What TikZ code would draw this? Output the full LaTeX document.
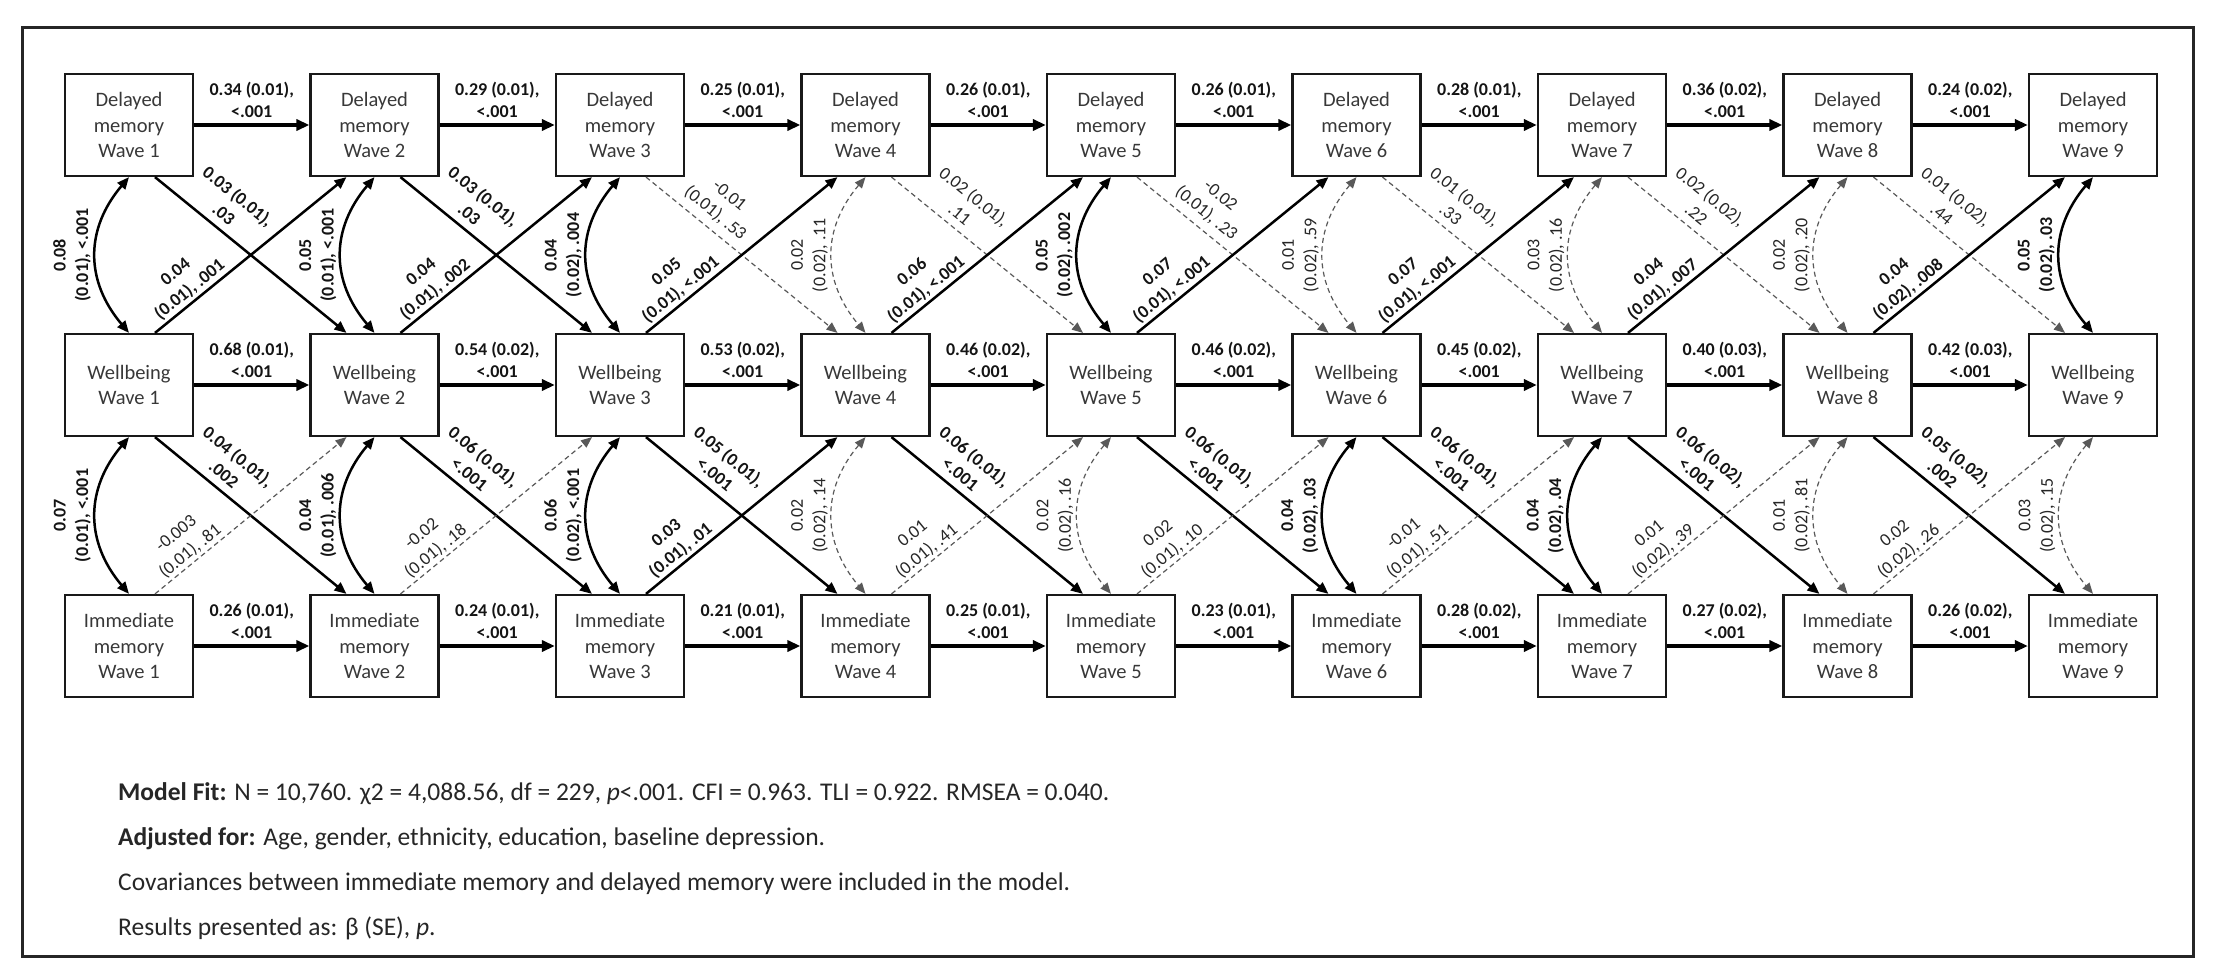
\documentclass[tikz,border=0pt]{standalone}
\usepackage{fontspec}
\setmainfont{Carlito}
\usetikzlibrary{arrows.meta,calc}
\begin{document}
\begin{tikzpicture}[x=1pt,y=-1pt,
  box/.style={draw=black!90, line width=2.2pt, minimum width=128pt, minimum height=102pt, align=center, inner sep=0pt, text=black!78, font=\fontsize{20.5}{25.6}\selectfont},
  lab/.style={align=center, inner sep=1.5pt, text=black!92, font=\fontsize{18}{22.5}\selectfont\bfseries},
  nlab/.style={align=center, inner sep=1.5pt, text=black!85, font=\fontsize{18}{22.5}\selectfont},
  harrow/.style={line width=3.4pt, draw=black, -{Triangle[length=13pt,width=11pt]}},
  sig/.style={line width=2.5pt, draw=black, -{Triangle[length=12pt,width=10pt]}, every node/.style={lab}},
  ns/.style={line width=1.2pt, draw=black!65, dash pattern=on 5pt off 3.5pt, -{Triangle[length=11pt,width=9pt]}, every node/.style={nlab}},
  sigc/.style={line width=2.5pt, draw=black, {Triangle[length=12pt,width=10pt]}-{Triangle[length=12pt,width=10pt]}, every node/.style={lab}},
  nsc/.style={line width=1.2pt, draw=black!65, dash pattern=on 5pt off 3.5pt, {Triangle[length=11pt,width=9pt]}-{Triangle[length=11pt,width=9pt]}, every node/.style={nlab}},
  note/.style={anchor=base west, inner sep=0pt, text=black!85, font=\fontsize{25.5}{32}\selectfont}
]
\useasboundingbox (0,0) rectangle (2217,963);
\draw[line width=3pt, black!85] (22,28) rectangle (2193,956);

\foreach \i in {1,...,9}{
  \pgfmathsetmacro\xx{129+245.5*(\i-1)}
  \node[box] (D\i) at (\xx,125) {Delayed\\memory\\Wave \i};
  \node[box] (W\i) at (\xx,385) {Wellbeing\\Wave \i};
  \node[box] (I\i) at (\xx,646) {Immediate\\memory\\Wave \i};
}

% horizontal autoregressive paths
\foreach \i/\j/\a/\b/\c in {
 1/2/{0.34 (0.01)}/{0.68 (0.01)}/{0.26 (0.01)},
 2/3/{0.29 (0.01)}/{0.54 (0.02)}/{0.24 (0.01)},
 3/4/{0.25 (0.01)}/{0.53 (0.02)}/{0.21 (0.01)},
 4/5/{0.26 (0.01)}/{0.46 (0.02)}/{0.25 (0.01)},
 5/6/{0.26 (0.01)}/{0.46 (0.02)}/{0.23 (0.01)},
 6/7/{0.28 (0.01)}/{0.45 (0.02)}/{0.28 (0.02)},
 7/8/{0.36 (0.02)}/{0.40 (0.03)}/{0.27 (0.02)},
 8/9/{0.24 (0.02)}/{0.42 (0.03)}/{0.26 (0.02)}}{
  \draw[harrow] (D\i) -- node[lab, above=4pt] {\a,\\<.001} (D\j);
  \draw[harrow] (W\i) -- node[lab, above=4pt] {\b,\\<.001} (W\j);
  \draw[harrow] (I\i) -- node[lab, above=4pt] {\c,\\<.001} (I\j);
}

% delayed -> wellbeing (descending)
\foreach \i/\j/\s/\l in {
 1/2/sig/{0.03 (0.01),\\.03},
 2/3/sig/{0.03 (0.01),\\.03},
 3/4/ns/{-0.01\\(0.01), .53},
 4/5/ns/{0.02 (0.01),\\.11},
 5/6/ns/{-0.02\\(0.01), .23},
 6/7/ns/{0.01 (0.01),\\.33},
 7/8/ns/{0.02 (0.02),\\.22},
 8/9/ns/{0.01 (0.02),\\.44}}{
  \draw[\s] ([xshift=26pt]D\i.south) -- node[pos=0.31, sloped, above=6pt] {\l} ([xshift=-28pt]W\j.north);
}

% wellbeing -> immediate (descending)
\foreach \i/\j/\s/\l in {
 1/2/sig/{0.04 (0.01),\\.002},
 2/3/sig/{0.06 (0.01),\\<.001},
 3/4/sig/{0.05 (0.01),\\<.001},
 4/5/sig/{0.06 (0.01),\\<.001},
 5/6/sig/{0.06 (0.01),\\<.001},
 6/7/sig/{0.06 (0.01),\\<.001},
 7/8/sig/{0.06 (0.02),\\<.001},
 8/9/sig/{0.05 (0.02),\\.002}}{
  \draw[\s] ([xshift=26pt]W\i.south) -- node[pos=0.31, sloped, above=6pt] {\l} ([xshift=-28pt]I\j.north);
}

% wellbeing -> delayed (ascending)
\foreach \i/\j/\s/\l in {
 1/2/sig/{0.04\\(0.01), .001},
 2/3/sig/{0.04\\(0.01), .002},
 3/4/sig/{0.05\\(0.01), <.001},
 4/5/sig/{0.06\\(0.01), <.001},
 5/6/sig/{0.07\\(0.01), <.001},
 6/7/sig/{0.07\\(0.01), <.001},
 7/8/sig/{0.04\\(0.01), .007},
 8/9/sig/{0.04\\(0.02), .008}}{
  \draw[\s] ([xshift=26pt]W\i.north) -- node[pos=0.22, sloped, above=1pt] {\l} ([xshift=-28pt]D\j.south);
}

% immediate -> wellbeing (ascending)
\foreach \i/\j/\s/\l in {
 1/2/ns/{-0.003\\(0.01), .81},
 2/3/ns/{-0.02\\(0.01), .18},
 3/4/sig/{0.03\\(0.01), .01},
 4/5/ns/{0.01\\(0.01), .41},
 5/6/ns/{0.02\\(0.01), .10},
 6/7/ns/{-0.01\\(0.01), .51},
 7/8/ns/{0.01\\(0.02), .39},
 8/9/ns/{0.02\\(0.02), .26}}{
  \draw[\s] ([xshift=26pt]I\i.north) -- node[pos=0.22, sloped, above=1pt] {\l} ([xshift=-28pt]W\j.south);
}

% covariances delayed - wellbeing
\foreach \i/\s/\l in {
 1/sigc/{0.08\\(0.01), <.001},
 2/sigc/{0.05\\(0.01), <.001},
 3/sigc/{0.04\\(0.02), .004},
 4/nsc/{0.02\\(0.02), .11},
 5/sigc/{0.05\\(0.02), .002},
 6/nsc/{0.01\\(0.02), .59},
 7/nsc/{0.03\\(0.02), .16},
 8/nsc/{0.02\\(0.02), .20},
 9/sigc/{0.05\\(0.02), .03}}{
  \draw[\s] (D\i.south) .. controls +(-44,52) and +(-44,-52) .. node[pos=0.5, rotate=90, anchor=south, inner sep=4pt] {\l} (W\i.north);
}

% covariances wellbeing - immediate
\foreach \i/\s/\l in {
 1/sigc/{0.07\\(0.01), <.001},
 2/sigc/{0.04\\(0.01), .006},
 3/sigc/{0.06\\(0.02), <.001},
 4/nsc/{0.02\\(0.02), .14},
 5/nsc/{0.02\\(0.02), .16},
 6/sigc/{0.04\\(0.02), .03},
 7/sigc/{0.04\\(0.02), .04},
 8/nsc/{0.01\\(0.02), .81},
 9/nsc/{0.03\\(0.02), .15}}{
  \draw[\s] (W\i.south) .. controls +(-44,52) and +(-44,-52) .. node[pos=0.5, rotate=90, anchor=south, inner sep=4pt] {\l} (I\i.north);
}

\node[note] (t1) at (118,800) {\textbf{Model Fit:} N = 10,760. χ2 = 4,088.56, df = 229, \textit{p}<.001. CFI = 0.963. TLI = 0.922. RMSEA = 0.040.};
\node[note] (t2) at (118,845) {\textbf{Adjusted for:} Age, gender, ethnicity, education, baseline depression.};
\node[note] (t3) at (118,890) {Covariances between immediate memory and delayed memory were included in the model.};
\node[note] (t4) at (118,935) {Results presented as: β (SE), \textit{p}.};
\end{tikzpicture}
\end{document}
